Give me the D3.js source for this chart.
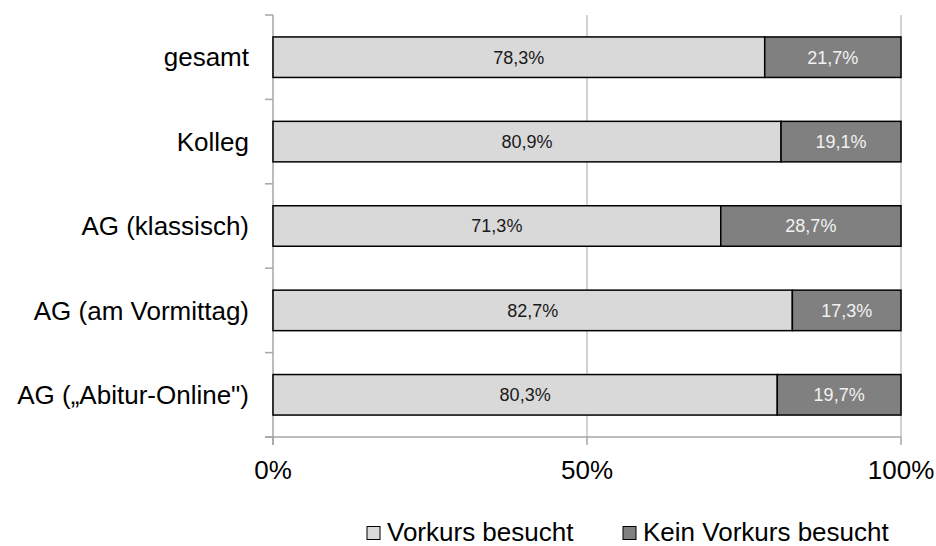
<!DOCTYPE html>
<html><head><meta charset="utf-8">
<script src="https://cdn.jsdelivr.net/npm/d3@7"></script>
<style>body{margin:0;background:#fff}svg{display:block}text{font-family:"Liberation Sans",Arial,sans-serif}</style>
</head><body>
<svg id="c" width="936" height="546"></svg>
<script>
const categories = ["gesamt","Kolleg","AG (klassisch)","AG (am Vormittag)","AG (\u201EAbitur-Online\")"];
const vorkurs = [78.3,80.9,71.3,82.7,80.3];
const keinVorkurs = [21.7,19.1,28.7,17.3,19.7];
const seriesNames = ["Vorkurs besucht","Kein Vorkurs besucht"];
const xTicks = [0,50,100];
const colors = ["#d9d9d9","#808080"];

const svg = d3.select("#c");
const x = d3.scaleLinear().domain([0,100]).range([273,901]);
const y = d3.scaleBand().domain(categories).range([15,437]).paddingInner(0.52).paddingOuter(0.26);
const yb = d3.scaleBand().domain(categories).range([15,437]);

// gridlines
svg.append("g").selectAll("line").data(xTicks.filter(d=>d>0)).join("line")
  .attr("x1",d=>x(d)).attr("x2",d=>x(d)).attr("y1",15).attr("y2",437)
  .attr("stroke","#a6a6a6").attr("stroke-width",1);

// y axis line + ticks
const ax = svg.append("g").attr("stroke","#a6a6a6").attr("stroke-width",1.5);
ax.append("line").attr("x1",273).attr("x2",273).attr("y1",15).attr("y2",445);
const bounds = categories.map(c=>yb(c)).concat([437]);
ax.selectAll(".yt").data(bounds).join("line").attr("class","yt")
  .attr("x1",265).attr("x2",273).attr("y1",d=>d).attr("y2",d=>d);
// x axis
ax.append("line").attr("x1",265).attr("x2",901).attr("y1",437).attr("y2",437);
ax.selectAll(".xt").data(xTicks).join("line").attr("class","xt")
  .attr("x1",d=>x(d)).attr("x2",d=>x(d)).attr("y1",437).attr("y2",445);

const fmt = v => v.toFixed(1).replace(".",",")+"%";
const data = categories.map((c,i)=>({c, a:vorkurs[i], b:keinVorkurs[i]}));

const g = svg.append("g");
data.forEach(d=>{
  const segs = [{x0:0,x1:d.a,v:d.a,k:0},{x0:d.a,x1:d.a+d.b,v:d.b,k:1}];
  segs.forEach(s=>{
    g.append("rect").attr("x",x(s.x0)).attr("y",y(d.c)).attr("width",x(s.x1)-x(s.x0)).attr("height",y.bandwidth())
      .attr("fill",colors[s.k]).attr("stroke","#000").attr("stroke-width",1.5);
    g.append("text").attr("x",(x(s.x0)+x(s.x1))/2).attr("y",y(d.c)+y.bandwidth()/2).attr("dy","0.35em")
      .attr("text-anchor","middle").attr("font-size",18).attr("fill",s.k===0?"#1a1a1a":"#f2f2f2").text(fmt(s.v));
  });
});

// category labels
svg.append("g").selectAll("text").data(categories).join("text")
  .attr("x",249).attr("y",d=>yb(d)+yb.bandwidth()/2).attr("dy","0.35em")
  .attr("text-anchor","end").attr("font-size",26).attr("fill","#000").text(d=>d);

// x tick labels
svg.append("g").selectAll("text").data(xTicks).join("text")
  .attr("x",d=>x(d)).attr("y",470).attr("dy","0.35em").attr("text-anchor","middle")
  .attr("font-size",26).attr("fill","#000").text(d=>d+"%");

// legend
const leg = [{x:367,t:seriesNames[0],c:colors[0]},{x:623,t:seriesNames[1],c:colors[1]}];
leg.forEach(l=>{
  svg.append("rect").attr("x",l.x).attr("y",526.5).attr("width",13).attr("height",13)
    .attr("fill",l.c).attr("stroke","#000").attr("stroke-width",1);
  svg.append("text").attr("x",l.x+20).attr("y",532).attr("dy","0.35em").attr("font-size",26).attr("fill","#000").text(l.t);
});
</script>
</body></html>
